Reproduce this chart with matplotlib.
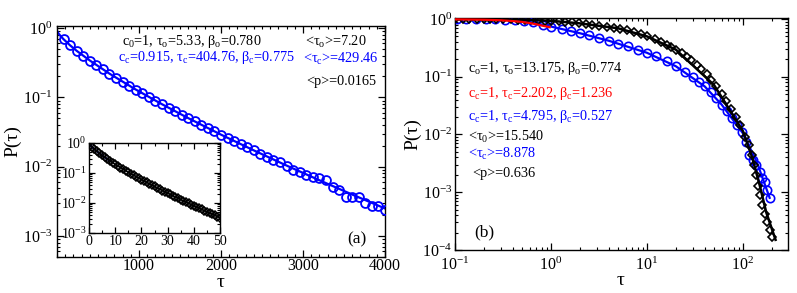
import matplotlib
matplotlib.use("Agg")
import matplotlib.pyplot as plt
from matplotlib.ticker import LogLocator, MultipleLocator, FixedLocator, NullFormatter

plt.rcParams['font.family'] = ['Liberation Serif', 'DejaVu Serif']
plt.rcParams['mathtext.fontset'] = 'custom'
plt.rcParams['mathtext.rm'] = 'Liberation Serif'
plt.rcParams['mathtext.it'] = 'Liberation Serif:italic'
plt.rcParams['mathtext.bf'] = 'Liberation Serif:bold'

# ---------------- Panel (a) data ----------------
a_tau = [80 * k for k in range(1, 51)]
a_p = [0.689, 0.562, 0.469, 0.398, 0.340, 0.292, 0.253, 0.2197, 0.1917, 0.1679,
       0.1474, 0.1297, 0.1145, 0.1013, 0.0897, 0.0797, 0.0709, 0.0631, 0.0563, 0.0502,
       0.0449, 0.0402, 0.0361, 0.0324, 0.0290, 0.0261, 0.0235, 0.0212, 0.0191, 0.0172,
       0.0155, 0.0140, 0.0127, 0.0115, 0.0104, 0.0090, 0.0084, 0.0077, 0.0071, 0.0068,
       0.0065, 0.0051, 0.0046, 0.0036, 0.0036, 0.0037, 0.0030, 0.0027, 0.0027, 0.0024]
a_fit_tau = [0, 20, 40, 80, 160, 240, 400, 640, 960, 1280, 1600, 2000, 2400, 2800, 3200, 3600, 4000]
a_fit_p = [0.915, 0.830, 0.775, 0.689, 0.562, 0.469, 0.340, 0.2197, 0.1297, 0.0797,
           0.0502, 0.0290, 0.0172, 0.01039, 0.00638, 0.00397, 0.00250]

# inset data
in_tau = list(range(1, 51))
in_p = [0.763, 0.628, 0.528, 0.4496, 0.3862, 0.3339, 0.2902, 0.2534, 0.2221, 0.1952,
        0.1721, 0.1521, 0.1347, 0.1195, 0.1063, 0.0947, 0.0845, 0.0755, 0.0675, 0.0605,
        0.0543, 0.0487, 0.0438, 0.0394, 0.0355, 0.0320, 0.0289, 0.0261, 0.0236, 0.0213,
        0.0193, 0.0175, 0.0158, 0.01436, 0.01303, 0.01183, 0.01075, 0.00978, 0.00889, 0.00809,
        0.00737, 0.00671, 0.00612, 0.00558, 0.00509, 0.00465, 0.00424, 0.00388, 0.00354, 0.00324]
in_fit_tau = [0, 0.5, 1, 2, 5, 10, 15, 20, 25, 30, 35, 40, 45, 50]
in_fit_p = [1.0, 0.854, 0.763, 0.628, 0.3862, 0.1952, 0.1063, 0.0605, 0.0355, 0.0213,
            0.01303, 0.00809, 0.00509, 0.00324]
in_blue_tau = [0, 0.5, 1, 2, 4, 6, 8]
in_blue_p = [1.0, 0.854, 0.763, 0.628, 0.4496, 0.3339, 0.2534]

# ---------------- Panel (b) data ----------------
b_open_tau = [0.10, 0.12, 0.14, 0.17, 0.20, 0.23, 0.27, 0.32, 0.38, 0.45, 0.53, 0.62, 0.73, 0.86,
              1.0, 1.2, 1.4, 1.65, 1.95, 2.3, 2.7, 3.2, 3.8, 4.5, 5.3, 6.2, 7.3, 8.6, 10, 12,
              14, 16, 18, 20, 23, 26, 29, 33, 37, 42, 47, 53, 60, 67, 75, 84, 94, 105, 115,
              123, 130, 137, 144, 152, 160, 170, 180, 190, 200]
b_open_p = [1.0, 1.0, 1.0, 0.995, 0.995, 0.99, 0.99, 0.985, 0.98, 0.975, 0.97, 0.96, 0.95, 0.94,
            0.93, 0.91, 0.89, 0.87, 0.845, 0.82, 0.80, 0.77, 0.74, 0.71, 0.675, 0.635, 0.595, 0.55,
            0.50, 0.445, 0.40, 0.36, 0.325, 0.295, 0.255, 0.222, 0.195, 0.162, 0.136, 0.11, 0.088,
            0.068, 0.050, 0.038, 0.028, 0.020, 0.0145, 0.0090, 0.0065, 0.0045, 0.0030, 0.0020,
            0.0013, 0.0009, 0.0006, 0.00042, 0.00030, 0.00022, 0.00017]
b_open_fit_tau = [0.1, 0.2, 0.5, 1, 2, 5, 10, 20, 50, 100, 125, 150, 175, 219]
b_open_fit_p = [1.0, 0.995, 0.975, 0.93, 0.84, 0.69, 0.50, 0.295, 0.072, 0.0115, 0.004,
                0.0013, 0.00045, 0.00015]

b_closed_tau = [0.105, 0.13, 0.165, 0.21, 0.26, 0.33, 0.42, 0.52, 0.65, 0.82, 1.0, 1.3, 1.6, 2.0,
                2.5, 3.2, 4.0, 5.0, 6.3, 8.0, 10, 12.5, 16, 20, 25, 30, 35, 40, 46, 53, 60, 68,
                77, 87, 97, 108, 117, 127, 137, 150, 160, 170, 180, 190]
b_closed_p = [1.0, 1.0, 0.995, 0.99, 0.98, 0.97, 0.95, 0.92, 0.87, 0.80, 0.74, 0.67, 0.62, 0.567,
              0.52, 0.465, 0.42, 0.375, 0.335, 0.295, 0.26, 0.225, 0.185, 0.152, 0.12, 0.098, 0.082,
              0.068, 0.054, 0.042, 0.033, 0.026, 0.0195, 0.0145, 0.011, 0.0075, 0.0045, 0.0036,
              0.0030, 0.0022, 0.0018, 0.0015, 0.0011, 0.00078]
b_closed_fit_tau = [0.1, 0.2, 0.4, 0.6, 1.0, 2.0, 4.0, 10, 20, 40, 60, 100, 140, 190]
b_closed_fit_p = [1.0, 0.99, 0.955, 0.89, 0.74, 0.567, 0.42, 0.26, 0.152, 0.068, 0.033, 0.0105,
                  0.0033, 0.0008]

b_red_tau = [0.1, 0.2, 0.3, 0.4, 0.5, 0.6, 0.7, 0.8, 0.9, 0.97]
b_red_p = [0.985, 0.97, 0.95, 0.92, 0.89, 0.85, 0.81, 0.77, 0.74, 0.72]

W, H = 797, 293
fig = plt.figure(figsize=(W / 100, H / 100), dpi=100)


def px_axes(l, r, t, b):
    return fig.add_axes([l / W, 1 - b / H, (r - l) / W, (b - t) / H])


def style(ax, size=11):
    ax.tick_params(which='both', direction='in', top=True, right=True, labelsize=size)
    ax.tick_params(which='major', length=5, width=0.9)
    ax.tick_params(which='minor', length=2.5, width=0.8)
    for s in ax.spines.values():
        s.set_linewidth(1.0)


blue = '#0000ff'

# Panel (a)
ax1 = px_axes(57, 385, 26, 257)
ax1.set_yscale('log')
ax1.plot(a_fit_tau, a_fit_p, color=blue, lw=1.6, zorder=2)
ax1.plot(a_tau, a_p, 'o', mfc='none', mec=blue, ms=6.4, mew=1.3, zorder=3)
ax1.set_xlim(0, 4000)
ax1.set_ylim(10 ** -3.302, 10 ** 0.029)
ax1.xaxis.set_major_locator(FixedLocator([1000, 2000, 3000, 4000]))
ax1.xaxis.set_minor_locator(MultipleLocator(100))
ax1.yaxis.set_major_locator(LogLocator(base=10, numticks=10))
ax1.yaxis.set_minor_locator(LogLocator(base=10, subs=range(2, 10), numticks=20))
ax1.yaxis.set_minor_formatter(NullFormatter())
style(ax1, 11.5)
ax1.tick_params(axis='x', pad=1)
ax1.set_ylabel('P(τ)', fontsize=14, labelpad=1)

# Inset
axi = px_axes(89, 220, 143, 233)
axi.set_yscale('log')
axi.plot(in_blue_tau, in_blue_p, color=blue, lw=1.4, zorder=2)
axi.plot(in_fit_tau, in_fit_p, color='black', lw=1.4, zorder=3)
axi.plot(in_tau, in_p, 'D', mfc='none', mec='black', ms=3.8, mew=1.1, zorder=4)
axi.set_xlim(0, 50)
axi.set_ylim(1e-3, 1.0)
axi.xaxis.set_major_locator(MultipleLocator(10))
axi.xaxis.set_minor_locator(MultipleLocator(5))
axi.yaxis.set_major_locator(LogLocator(base=10, numticks=10))
axi.yaxis.set_minor_locator(LogLocator(base=10, subs=range(2, 10), numticks=20))
axi.yaxis.set_minor_formatter(NullFormatter())
style(axi, 10)
axi.tick_params(axis='both', pad=1.5)
axi.tick_params(which='major', length=4)
axi.tick_params(which='minor', length=2)

# Panel (b)
ax2 = px_axes(455, 788, 18, 250)
ax2.set_xscale('log')
ax2.set_yscale('log')
ax2.plot(b_closed_fit_tau, b_closed_fit_p, color=blue, lw=1.6, zorder=2)
ax2.plot(b_closed_tau, b_closed_p, 'o', mfc='none', mec=blue, ms=6.0, mew=1.2, zorder=3)
ax2.plot(b_open_fit_tau, b_open_fit_p, color='black', lw=1.8, zorder=4)
ax2.plot(b_open_tau, b_open_p, 'D', mfc='none', mec='black', ms=4.2, mew=1.2, zorder=5)
ax2.plot(b_red_tau, b_red_p, color='red', lw=1.6, zorder=6)
ax2.set_xlim(0.1, 10 ** 2.47)
ax2.set_ylim(1e-4, 10 ** 0.017)
ax2.xaxis.set_major_locator(LogLocator(base=10, numticks=10))
ax2.xaxis.set_minor_locator(LogLocator(base=10, subs=range(2, 10), numticks=20))
ax2.xaxis.set_minor_formatter(NullFormatter())
ax2.yaxis.set_major_locator(LogLocator(base=10, numticks=10))
ax2.yaxis.set_minor_locator(LogLocator(base=10, subs=range(2, 10), numticks=20))
ax2.yaxis.set_minor_formatter(NullFormatter())
style(ax2, 11.5)
ax2.tick_params(axis='x', pad=5)
ax2.tick_params(axis='y', pad=2)
ax2.set_ylabel('P(τ)', fontsize=14, labelpad=1)


def ftext(x, y, s, color='black', size=10.3, ha='left', va='center'):
    fig.text(x / W, 1 - y / H, s, color=color, fontsize=size, ha=ha, va=va)


# axis x labels placed at the reference positions
ftext(221, 291, 'τ', size=14, ha='center', va='bottom')
ftext(621, 289, 'τ', size=14, ha='center', va='bottom')

# Panel (a) annotations
ftext(122, 41, r'c$_\mathrm{0}$=1, τ$_\mathrm{o}$=5.33, β$_\mathrm{o}$=0.780')
ftext(118, 57, r'c$_\mathrm{c}$=0.915, τ$_\mathrm{c}$=404.76, β$_\mathrm{c}$=0.775', color=blue)
ftext(305, 42, r'<τ$_\mathrm{o}$>=7.20')
ftext(303, 59, r'<τ$_\mathrm{c}$>=429.46', color=blue)
ftext(306, 81, r'<p>=0.0165')
ftext(347, 239, '(a)', size=12.5)

# Panel (b) annotations
ftext(468, 69, r'c$_\mathrm{o}$=1, τ$_\mathrm{o}$=13.175, β$_\mathrm{o}$=0.774')
ftext(468, 93, r'c$_\mathrm{c}$=1, τ$_\mathrm{c}$=2.202, β$_\mathrm{c}$=1.236', color='red')
ftext(468, 117, r'c$_\mathrm{c}$=1, τ$_\mathrm{c}$=4.795, β$_\mathrm{c}$=0.527', color=blue)
ftext(468, 137, r'<τ$_\mathrm{0}$>=15.540')
ftext(468, 154, r'<τ$_\mathrm{c}$>=8.878', color=blue)
ftext(472, 173, r'<p>=0.636')
ftext(474, 232, '(b)', size=12.5)

fig.savefig('out.png', dpi=100)
